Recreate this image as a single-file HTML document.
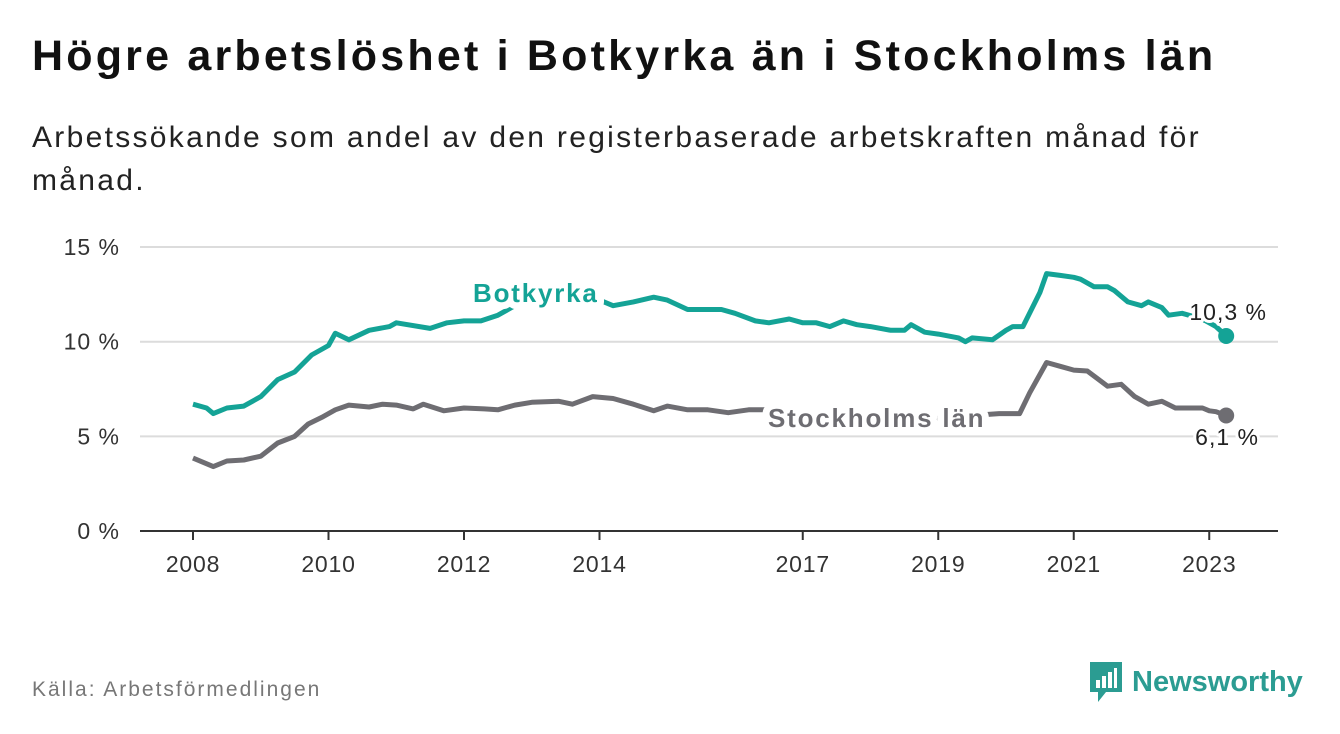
<!DOCTYPE html>
<html><head><meta charset="utf-8"><style>
body{margin:0;width:1340px;height:734px;background:#fff;font-family:"Liberation Sans",sans-serif;overflow:hidden;position:relative}
h1{position:absolute;left:32px;top:32px;margin:0;font-size:43px;letter-spacing:3.2px;font-weight:bold;color:#111}
.sub{position:absolute;left:32px;top:116px;width:1300px;font-size:30px;letter-spacing:2.3px;line-height:43px;color:#222}
.src{position:absolute;left:32px;top:678px;font-size:21px;letter-spacing:2px;color:#777}
.logo{position:absolute;left:1088px;top:660px;display:flex;align-items:center;color:#2b9c92;font-size:29px;font-weight:bold}
</style></head><body>
<h1>Högre arbetslöshet i Botkyrka än i Stockholms län</h1>
<div class="sub">Arbetssökande som andel av den registerbaserade arbetskraften månad för<br>månad.</div>
<svg id="chart" width="1340" height="734" style="position:absolute;left:0;top:0"></svg>
<div class="src">Källa: Arbetsförmedlingen</div>
<div class="logo"><svg width="36" height="44" viewBox="0 0 36 44"><path d="M2 2h32v30H18l-8 10v-10H2z" fill="#2b9c92"/><rect x="8" y="20" width="4" height="8" fill="#fff"/><rect x="14" y="16" width="4" height="12" fill="#fff"/><rect x="20" y="12" width="4" height="16" fill="#fff"/><rect x="26" y="8" width="3" height="20" fill="#fff"/></svg><span style="margin-left:8px">Newsworthy</span></div>
<script>
const botT=[2008.0,2008.2,2008.3,2008.5,2008.75,2009,2009.25,2009.5,2009.75,2010,2010.1,2010.3,2010.6,2010.9,2011,2011.5,2011.75,2012,2012.25,2012.5,2012.75,2013,2013.5,2014,2014.2,2014.5,2014.8,2015,2015.3,2015.5,2015.8,2016,2016.3,2016.5,2016.8,2017,2017.2,2017.4,2017.6,2017.8,2018,2018.3,2018.5,2018.6,2018.8,2019,2019.3,2019.4,2019.5,2019.8,2020.0,2020.1,2020.25,2020.5,2020.6,2020.8,2021.0,2021.1,2021.3,2021.5,2021.6,2021.8,2022,2022.1,2022.3,2022.4,2022.6,2022.8,2022.95,2023.1,2023.25];
const botV=[6.7,6.5,6.2,6.5,6.6,7.1,8.0,8.4,9.3,9.8,10.45,10.1,10.6,10.8,11.0,10.7,11.0,11.1,11.1,11.4,11.9,12.2,12.3,12.2,11.9,12.1,12.35,12.2,11.7,11.7,11.7,11.5,11.1,11.0,11.2,11.0,11.0,10.8,11.1,10.9,10.8,10.6,10.6,10.9,10.5,10.4,10.2,10.0,10.2,10.1,10.6,10.8,10.8,12.6,13.6,13.5,13.4,13.3,12.9,12.9,12.7,12.1,11.9,12.1,11.8,11.4,11.5,11.3,11.1,10.8,10.3];
const stoT=[2008,2008.3,2008.5,2008.75,2009,2009.25,2009.5,2009.7,2009.9,2010.1,2010.3,2010.6,2010.8,2011,2011.25,2011.4,2011.7,2012,2012.3,2012.5,2012.75,2013,2013.4,2013.6,2013.9,2014.2,2014.5,2014.8,2015,2015.3,2015.6,2015.9,2016.2,2016.5,2016.7,2017.0,2017.2,2017.5,2018,2018.5,2019,2019.5,2019.9,2020.2,2020.35,2020.6,2020.8,2021.0,2021.2,2021.5,2021.7,2021.9,2022.1,2022.3,2022.5,2022.7,2022.9,2023.0,2023.1,2023.25];
const stoV=[3.85,3.4,3.7,3.75,3.95,4.65,5.0,5.65,6.0,6.4,6.65,6.55,6.7,6.65,6.45,6.7,6.35,6.5,6.45,6.4,6.65,6.8,6.85,6.7,7.1,7.0,6.7,6.35,6.6,6.4,6.4,6.25,6.4,6.4,6.25,6.1,6.2,6.2,6.1,6.0,5.95,6.1,6.2,6.2,7.3,8.9,8.7,8.5,8.45,7.65,7.75,7.1,6.7,6.85,6.5,6.5,6.5,6.35,6.3,6.1];
const yTicks=[0,5,10,15];
const xTicks=[2008,2010,2012,2014,2017,2019,2021,2023];
const NS='http://www.w3.org/2000/svg';
const svg=document.getElementById('chart');
const xs=t=>193+(t-2008)*67.75;
const ys=v=>531-v*18.93;
function mk(tag,a,parent){const e=document.createElementNS(NS,tag);for(const k in a)e.setAttribute(k,a[k]);(parent||svg).appendChild(e);return e;}
yTicks.forEach(v=>{
 const l=mk('line',{x1:140,x2:1278,y1:ys(v),y2:ys(v),stroke:v?'#dcdcdc':'#333','stroke-width':2});
 
 
 const t=mk('text',{x:120,y:ys(v)+8,'text-anchor':'end','font-size':23,'letter-spacing':1,fill:'#333','font-family':'Liberation Sans'});
 t.textContent=v+' %';
 
 
});
xTicks.forEach(y=>{
 const l=mk('line',{x1:xs(y),x2:xs(y),y1:531,y2:540,stroke:'#333','stroke-width':2});
 
 
 const t=mk('text',{x:xs(y),y:572,'text-anchor':'middle','font-size':23,'letter-spacing':0.8,fill:'#333','font-family':'Liberation Sans'});
 t.textContent=y;
 
 
});
function line(T,V,c,name){
 const d=T.map((t,i)=>(i?'L':'M')+xs(t).toFixed(1)+','+ys(V[i]).toFixed(1)).join('');
 const p=mk('path',{d:d,fill:'none',stroke:c,'stroke-width':5,'stroke-linejoin':'round'});
 
 
 const n=T.length-1;
 const c2=mk('circle',{cx:xs(T[n]),cy:ys(V[n]),r:8,fill:c});
 
 
}
line(stoT,stoV,'#6e6d72','stockholm');
line(botT,botV,'#14a396','botkyrka');
function lab(txt,x,y,c,w,anchor,name,ls){
 const t=mk('text',{x:x,y:y,'font-size':w?26:23,'letter-spacing':ls,'font-weight':w?'bold':'normal',fill:c,stroke:'#fff','stroke-width':w?14:6,'paint-order':'stroke','stroke-linejoin':'round','text-anchor':anchor,'font-family':'Liberation Sans'});
 t.textContent=txt;
 
 
}
lab('Botkyrka',473,302,'#14a396',1,'start','botkyrka-label',1.8);
lab('Stockholms län',768,427,'#6e6d72',1,'start','stockholm-label',1.8);
lab('10,3 %',1267,320,'#222',0,'end','botkyrka-end-value',1);
lab('6,1 %',1259,445,'#222',0,'end','stockholm-end-value',1);
</script>
</body></html>
